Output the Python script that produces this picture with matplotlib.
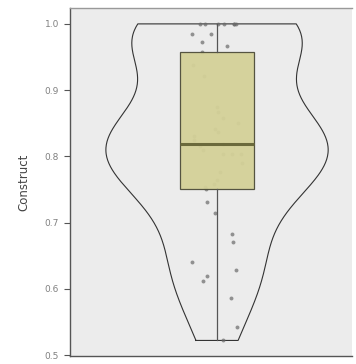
import numpy as np
import matplotlib
matplotlib.use("Agg")
import matplotlib.pyplot as plt

# construct scores (one value per respondent)
low_scores = [0.522, 0.543, 0.586, 0.612, 0.619, 0.628, 0.641, 0.670,
              0.682, 0.715, 0.731, 0.751]
mid_scores = [0.754, 0.758, 0.765, 0.776, 0.790, 0.803, 0.803, 0.803,
              0.810, 0.815, 0.819, 0.825, 0.830, 0.836, 0.842, 0.850,
              0.858, 0.867, 0.874, 0.922, 0.938, 0.958]
high_scores = [0.967, 0.972, 0.985, 0.985, 1.0, 1.0, 1.0, 1.0, 1.0, 1.0, 1.0]
y_label = "Construct"
y_ticks = [0.5, 0.6, 0.7, 0.8, 0.9, 1.0]

values = np.array(low_scores + mid_scores + high_scores)


def kde(data, grid):
    # gaussian kde, bw.nrd0 style
    sd = data.std(ddof=1)
    iqr = np.subtract(*np.percentile(data, [75, 25]))
    bw = 0.9 * min(sd, iqr / 1.34) * len(data) ** -0.2
    z = (grid[:, None] - data[None, :]) / bw
    return np.exp(-0.5 * z ** 2).sum(axis=1) / (len(data) * bw * np.sqrt(2 * np.pi))


fig = plt.figure(figsize=(3.56, 3.64), dpi=100)
ax = fig.add_axes([70 / 356, 8 / 364, 282 / 356, 348 / 364])
ax.set_facecolor("#ececec")

# violin outline, trimmed at data range
grid = np.linspace(values.min(), values.max(), 300)
dens = kde(values, grid)
half = dens / dens.max() * 0.378
xs = np.concatenate([-half, half[::-1], [-half[0]]])
ys = np.concatenate([grid, grid[::-1], [grid[0]]])
ax.plot(xs, ys, color="#333333", lw=0.8, zorder=2)

# jittered points (drawn under the box)
rng = np.random.default_rng(7)
jit = rng.uniform(-0.085, 0.085, len(values))
ax.scatter(jit, values, s=8, color="#6a6a6a", alpha=0.7, lw=0, zorder=3)

ax.boxplot([values], positions=[0], widths=0.25, patch_artist=True,
           whis=10, showcaps=False, manage_ticks=False,
           boxprops=dict(facecolor="#d4d198", edgecolor="#4d4d3a", lw=0.9, alpha=0.95),
           medianprops=dict(color="#6b6a3c", lw=2.2),
           whiskerprops=dict(color="#555555", lw=0.9),
           flierprops=dict(marker=""), zorder=4)

ax.set_xlim(-0.5, 0.459)
ax.set_ylim(0.4985, 1.024)
ax.set_xticks([])
ax.set_yticks(y_ticks)
ax.set_yticklabels([f"{t:.1f}" for t in y_ticks])
ax.tick_params(axis="y", length=4, width=0.8, color="#555555",
               labelsize=6.5, labelcolor="#808080", pad=4)
ax.set_ylabel(y_label, fontsize=8.5, color="#444444", labelpad=10)

for side in ["left", "bottom"]:
    ax.spines[side].set_color("#555555")
    ax.spines[side].set_linewidth(1.0)
ax.spines["top"].set_color("#999999")
ax.spines["top"].set_linewidth(1.0)
ax.spines["right"].set_visible(False)

fig.savefig("out.png", dpi=100)
